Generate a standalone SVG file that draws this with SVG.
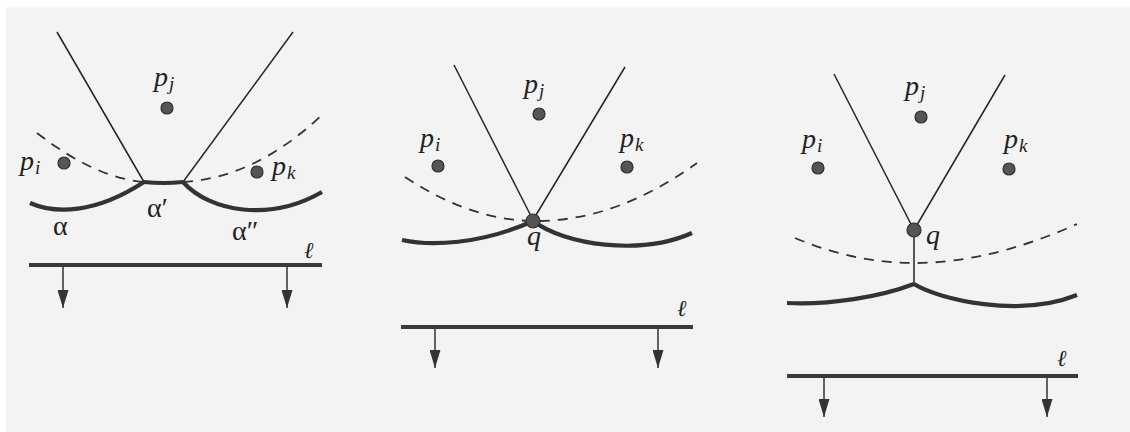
<svg xmlns="http://www.w3.org/2000/svg" width="1130" height="432" viewBox="0 0 1130 432">
  <style>
    .ray { stroke: #2a2222; stroke-width: 1.5; fill: none; }
    .beach { stroke: #333; stroke-width: 4.2; fill: none; stroke-linecap: butt; }
    .dash { stroke: #333; stroke-width: 1.8; fill: none; stroke-dasharray: 10 8; }
    .sweep { stroke: #3a3a3a; stroke-width: 4; }
    .stem { stroke: #333; stroke-width: 1.5; }
    .site { fill: #555; stroke: #2e2e2e; stroke-width: 1.2; }
    text { font-family: "Liberation Serif", "DejaVu Serif", serif; fill: #222; }
    .it { font-style: italic; }
    .big { font-size: 28px; }
    .sub { font-size: 19px; }
    .greek { font-size: 28px; }
    .ell { font-size: 23px; }
  </style>
  <defs>
    <marker id="arr" viewBox="0 0 18 11" refX="18" refY="5.5" markerWidth="18" markerHeight="11" markerUnits="userSpaceOnUse" orient="auto">
      <path d="M0,0 L18,5.5 L0,11 z" fill="#333"/>
    </marker>
  </defs>
  <rect x="0" y="0" width="1130" height="432" fill="#ffffff"/>
  <rect x="6" y="7" width="1124" height="425" fill="#f3f3f3"/>

  <!-- Panel 1 -->
  <g id="panel1">
    <g id="p1-connectors">
      <line class="ray" x1="57" y1="32" x2="144" y2="182"/>
      <line class="ray" x1="293" y1="32" x2="183" y2="182"/>
      <path class="dash" d="M37,133 Q95,178 144,182"/>
      <path class="dash" d="M183,182 Q255,178 322,115"/>
      <path class="beach" d="M30,203 C55,214 95,214 144,182"/>
      <path class="beach" d="M144,182 Q163,184 183,182"/>
      <path class="beach" d="M183,182 C210,212 270,222 322,192"/>
      <line class="sweep" x1="29" y1="265" x2="322" y2="265"/>
      <line class="stem" x1="63" y1="267" x2="63" y2="308" marker-end="url(#arr)"/>
      <line class="stem" x1="287" y1="267" x2="287" y2="308" marker-end="url(#arr)"/>
    </g>
    <g id="p1-pj"><circle class="site" cx="167" cy="108" r="6"/><text class="it big" x="154" y="86">p<tspan class="sub" dx="1" dy="4">j</tspan></text></g>
    <g id="p1-pi"><circle class="site" cx="64" cy="163" r="6"/><text class="it big" x="20" y="170">p<tspan class="sub" dx="1" dy="4">i</tspan></text></g>
    <g id="p1-pk"><circle class="site" cx="257" cy="172" r="6"/><text class="it big" x="272" y="175">p<tspan class="sub" dx="1" dy="4">k</tspan></text></g>
    <text class="greek" x="53" y="235">α</text>
    <text class="greek" x="147" y="217">α′</text>
    <text class="greek" x="232" y="240">α″</text>
    <text class="it ell" x="304" y="258">ℓ</text>
  </g>

  <!-- Panel 2 -->
  <g id="panel2">
    <g id="p2-connectors">
      <line class="ray" x1="454" y1="65" x2="533" y2="220"/>
      <line class="ray" x1="625" y1="67" x2="533" y2="220"/>
      <path class="dash" d="M405,177 Q470,220 533,221 Q615,222 697,163"/>
      <path class="beach" d="M402,240 C430,246 480,245 533,221"/>
      <path class="beach" d="M533,221 C565,245 640,256 692,233"/>
      <line class="sweep" x1="401" y1="327" x2="693" y2="327"/>
      <line class="stem" x1="435" y1="329" x2="435" y2="368" marker-end="url(#arr)"/>
      <line class="stem" x1="658" y1="329" x2="658" y2="368" marker-end="url(#arr)"/>
    </g>
    <g id="p2-pj"><circle class="site" cx="539" cy="114" r="6"/><text class="it big" x="524" y="93">p<tspan class="sub" dx="1" dy="4">j</tspan></text></g>
    <g id="p2-pi"><circle class="site" cx="438" cy="166" r="6"/><text class="it big" x="420" y="147">p<tspan class="sub" dx="1" dy="4">i</tspan></text></g>
    <g id="p2-pk"><circle class="site" cx="627" cy="167" r="6"/><text class="it big" x="620" y="147">p<tspan class="sub" dx="1" dy="4">k</tspan></text></g>
    <g id="p2-q"><circle class="site" cx="533" cy="221" r="7"/><text class="it big" x="527" y="245">q</text></g>
    <text class="it ell" x="677" y="316">ℓ</text>
  </g>

  <!-- Panel 3 -->
  <g id="panel3">
    <g id="p3-connectors">
      <line class="ray" x1="834" y1="74" x2="914" y2="230"/>
      <line class="ray" x1="1005" y1="75" x2="914" y2="230"/>
      <line class="ray" x1="914" y1="230" x2="914" y2="284"/>
      <path class="dash" d="M795,238 Q855,263 914,263 Q990,263 1077,224"/>
      <path class="beach" d="M787,303 C830,305 880,297 914,284"/>
      <path class="beach" d="M914,284 C940,300 1020,318 1077,295"/>
      <line class="sweep" x1="787" y1="376" x2="1078" y2="376"/>
      <line class="stem" x1="824" y1="378" x2="824" y2="417" marker-end="url(#arr)"/>
      <line class="stem" x1="1047" y1="378" x2="1047" y2="417" marker-end="url(#arr)"/>
    </g>
    <g id="p3-pj"><circle class="site" cx="921" cy="117" r="6"/><text class="it big" x="905" y="95">p<tspan class="sub" dx="1" dy="4">j</tspan></text></g>
    <g id="p3-pi"><circle class="site" cx="818" cy="168" r="6"/><text class="it big" x="802" y="148">p<tspan class="sub" dx="1" dy="4">i</tspan></text></g>
    <g id="p3-pk"><circle class="site" cx="1009" cy="169" r="6"/><text class="it big" x="1004" y="148">p<tspan class="sub" dx="1" dy="4">k</tspan></text></g>
    <g id="p3-q"><circle class="site" cx="914" cy="230" r="7"/><text class="it big" x="926" y="244">q</text></g>
    <text class="it ell" x="1057" y="366">ℓ</text>
  </g>
</svg>
